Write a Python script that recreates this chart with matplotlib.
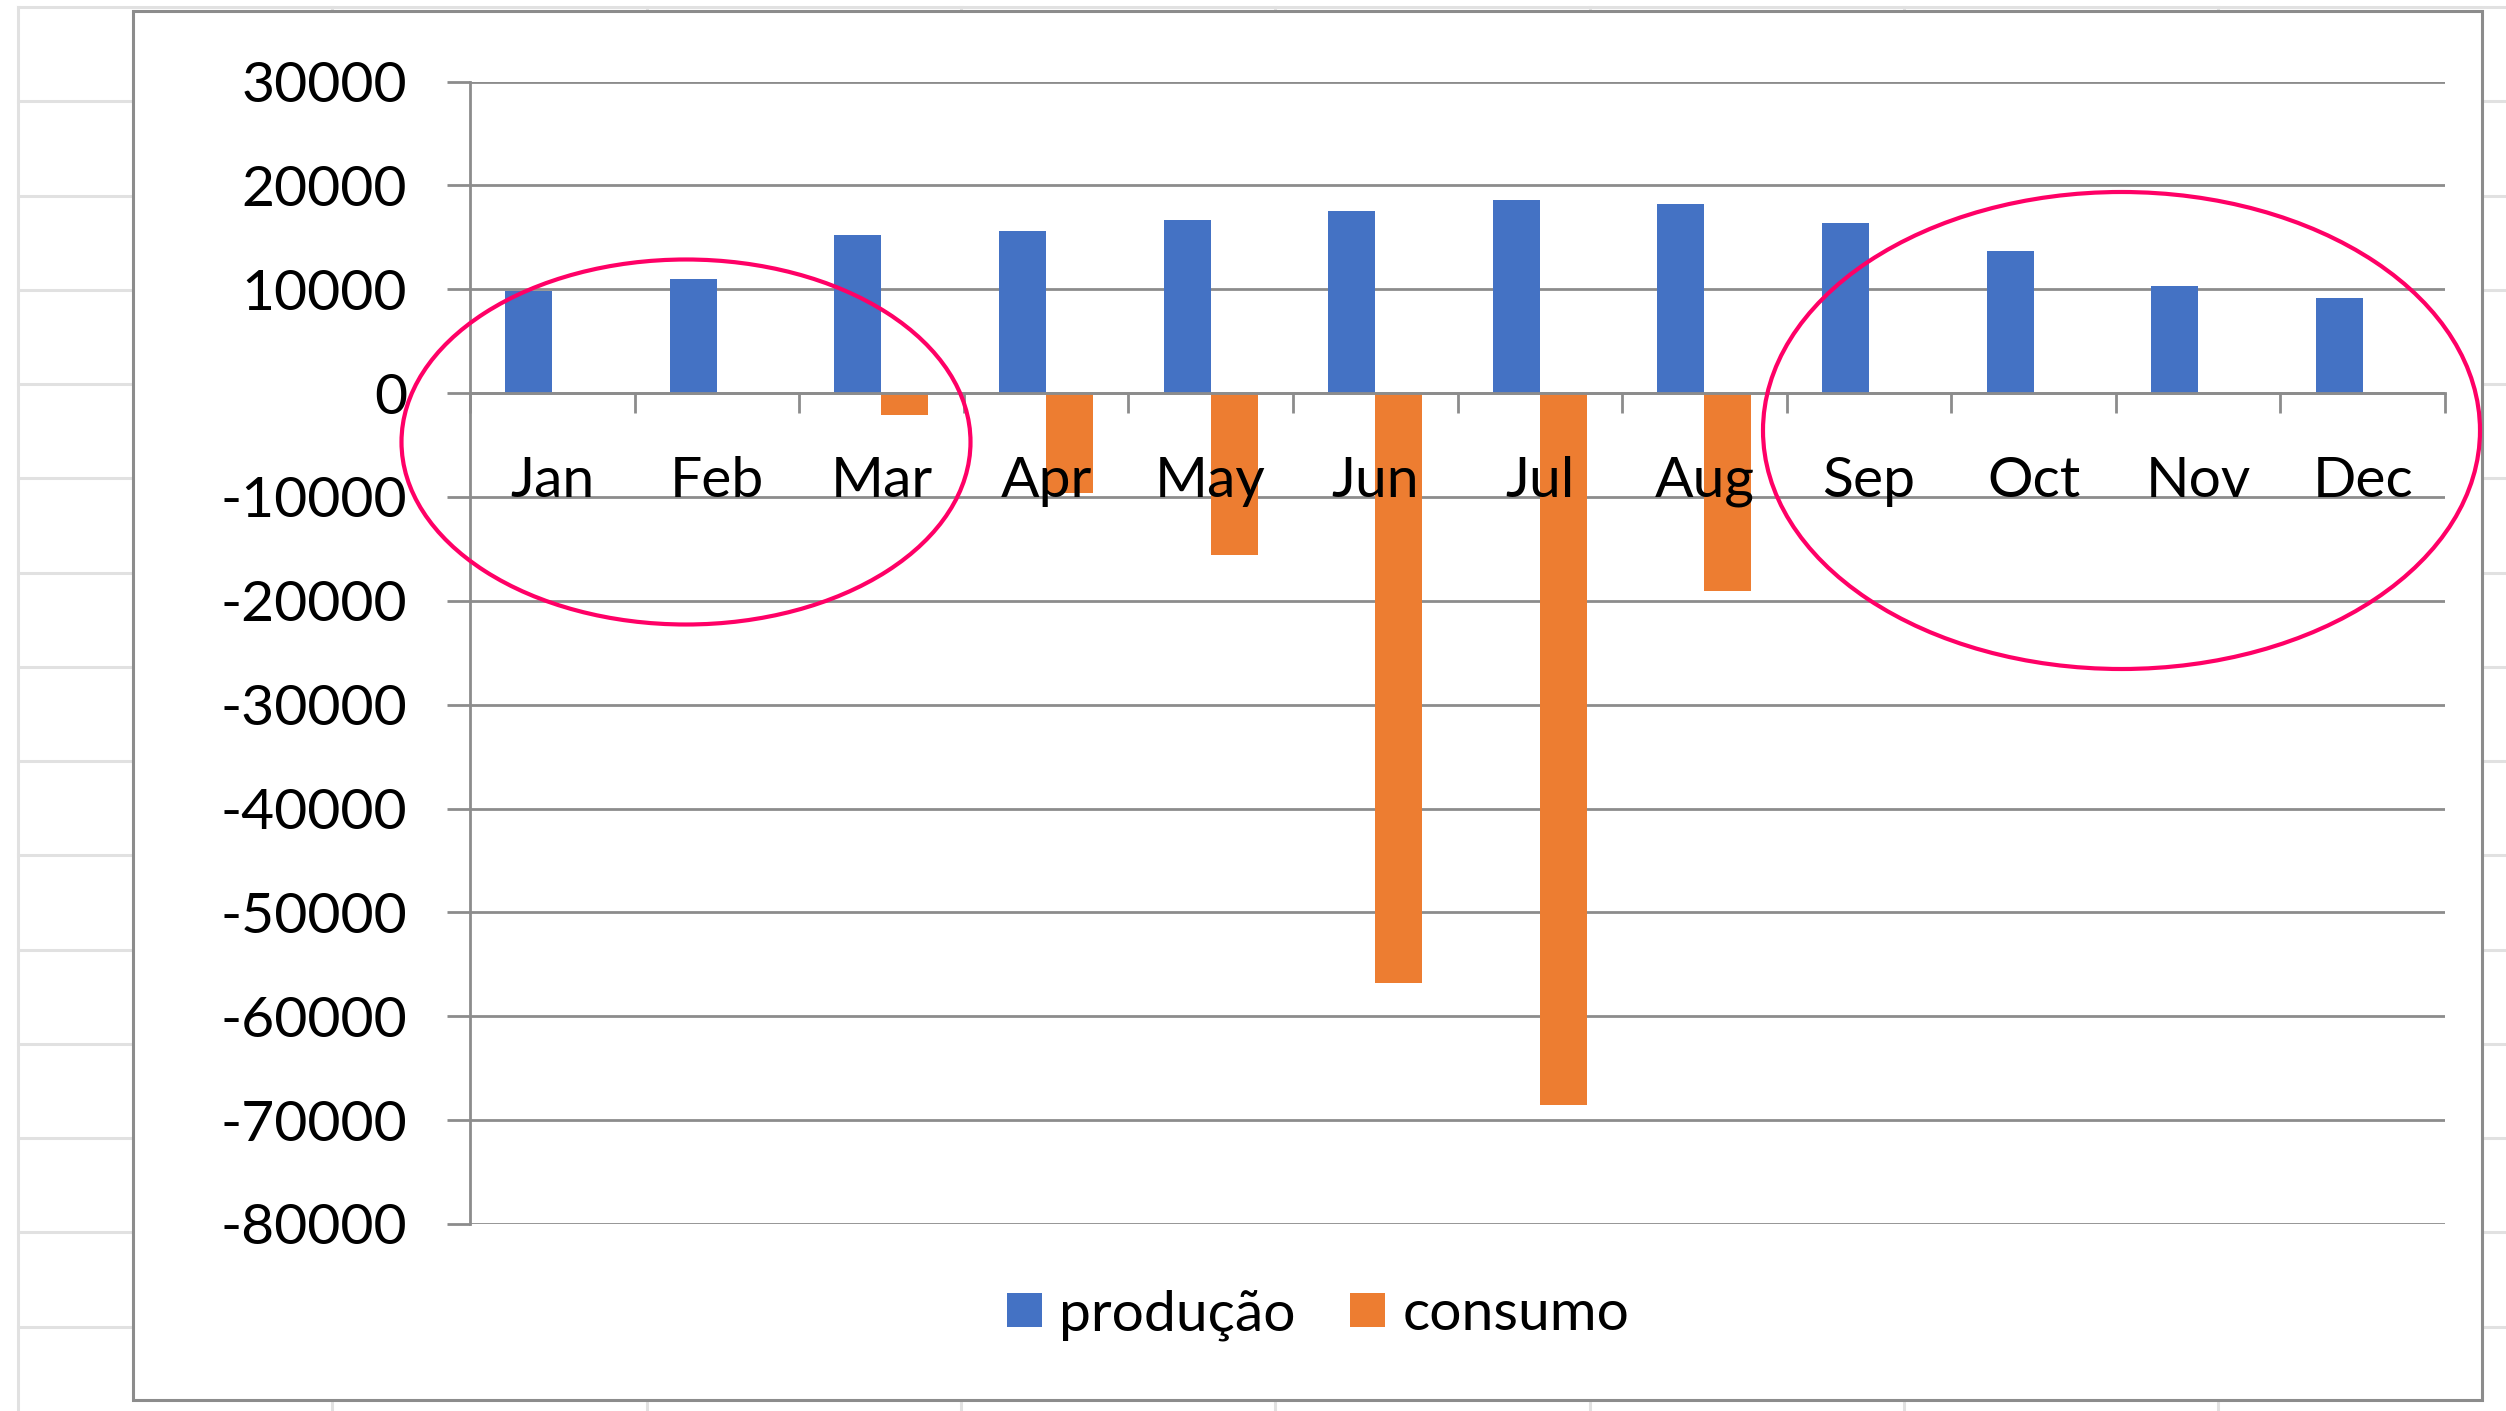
import numpy as np
import matplotlib.pyplot as plt
from matplotlib.patches import Ellipse, Rectangle
from matplotlib.transforms import offset_copy

months = ['Jan', 'Feb', 'Mar', 'Apr', 'May', 'Jun',
          'Jul', 'Aug', 'Sep', 'Oct', 'Nov', 'Dec']
producao = [9800, 11000, 15200, 15600, 16700, 17500,
            18600, 18200, 16400, 13700, 10300, 9200]
consumo = [0, 0, -2100, -9600, -15600, -56800,
           -68500, -19100, 0, 0, 0, 0]
series_names = ['produção', 'consumo']
y_ticks = list(range(-80000, 30001, 10000))

plt.rcParams['font.family'] = ['Lato', 'DejaVu Sans']

W, H = 2506, 1411
GRID = '#8c8c8c'
SHEET = '#e1e1e1'
BLUE = '#4472C4'
ORANGE = '#ED7D31'
MARK = '#FF0066'
FS = 41

fig = plt.figure(figsize=(W / 100, H / 100), dpi=100)

# spreadsheet cells behind the chart object
bg = fig.add_axes([0, 0, 1, 1], zorder=-10)
bg.set_xlim(0, W)
bg.set_ylim(H, 0)
bg.axis('off')
for k in range(15):
    yy = 7 + 94.25 * k
    bg.plot([18, W], [yy, yy], color=SHEET, lw=2.2, zorder=1)
for k in range(8):
    xx = 18 + 314.3 * k
    bg.plot([xx, xx], [7, H], color=SHEET, lw=2.2, zorder=1)
bg.add_patch(Rectangle((133, 11), 2482 - 133, 1400 - 11,
                       facecolor='white', edgecolor=GRID, lw=2.2, zorder=5))

# the chart itself
ax = fig.add_axes([470 / W, 1 - 1224 / H, (2445 - 470) / W, (1224 - 81.5) / H])
ax.patch.set_alpha(0)
x = np.arange(len(months))
w = 0.2857
b1 = ax.bar(x - w / 2, producao, w, color=BLUE, zorder=2)
b2 = ax.bar(x + w / 2, consumo, w, color=ORANGE, zorder=2)

ax.set_xlim(-0.5, len(months) - 0.5)
ax.set_ylim(-80000, 30000)
ax.set_yticks(y_ticks)
ax.set_yticklabels([str(v) for v in y_ticks])
ax.yaxis.grid(True, color=GRID, lw=2)
ax.set_axisbelow(True)

for s in ['top', 'right']:
    ax.spines[s].set_visible(False)
for s in ['left', 'bottom']:
    ax.spines[s].set_color(GRID)
    ax.spines[s].set_linewidth(2)
ax.spines['bottom'].set_position(('data', 0))

# category labels sit on top of the bars, like in Excel
ax.set_xticks(np.arange(-0.5, len(months), 1))
ax.set_xticklabels([])
ax.tick_params(axis='x', length=14.4, width=2, color=GRID)
ax.tick_params(axis='y', length=16.8, width=2, color=GRID, pad=28.5, labelsize=FS)
lab_tr = offset_copy(ax.transData, fig=fig, y=-45.5, units='points')
for i, m in enumerate(months):
    ax.text(x[i], 0, m, transform=lab_tr, ha='center', va='top',
            fontsize=FS, zorder=4)

fig.legend([b1, b2], series_names, loc='center',
           bbox_to_anchor=(1318 / W, 1 - 1315 / H), ncol=2, frameon=False,
           fontsize=FS, handlelength=0.62, handleheight=0.56,
           handletextpad=0.3, columnspacing=0.95)

# hand-drawn highlight ellipses
top = fig.add_axes([0, 0, 1, 1], zorder=5)
top.set_xlim(0, W)
top.set_ylim(H, 0)
top.axis('off')
top.patch.set_alpha(0)
top.add_patch(Ellipse((686, 442), 569, 365, fill=False, edgecolor=MARK, lw=3))
top.add_patch(Ellipse((2121.5, 430.5), 717, 477, fill=False, edgecolor=MARK, lw=3))

fig.savefig('out.png', dpi=100)
